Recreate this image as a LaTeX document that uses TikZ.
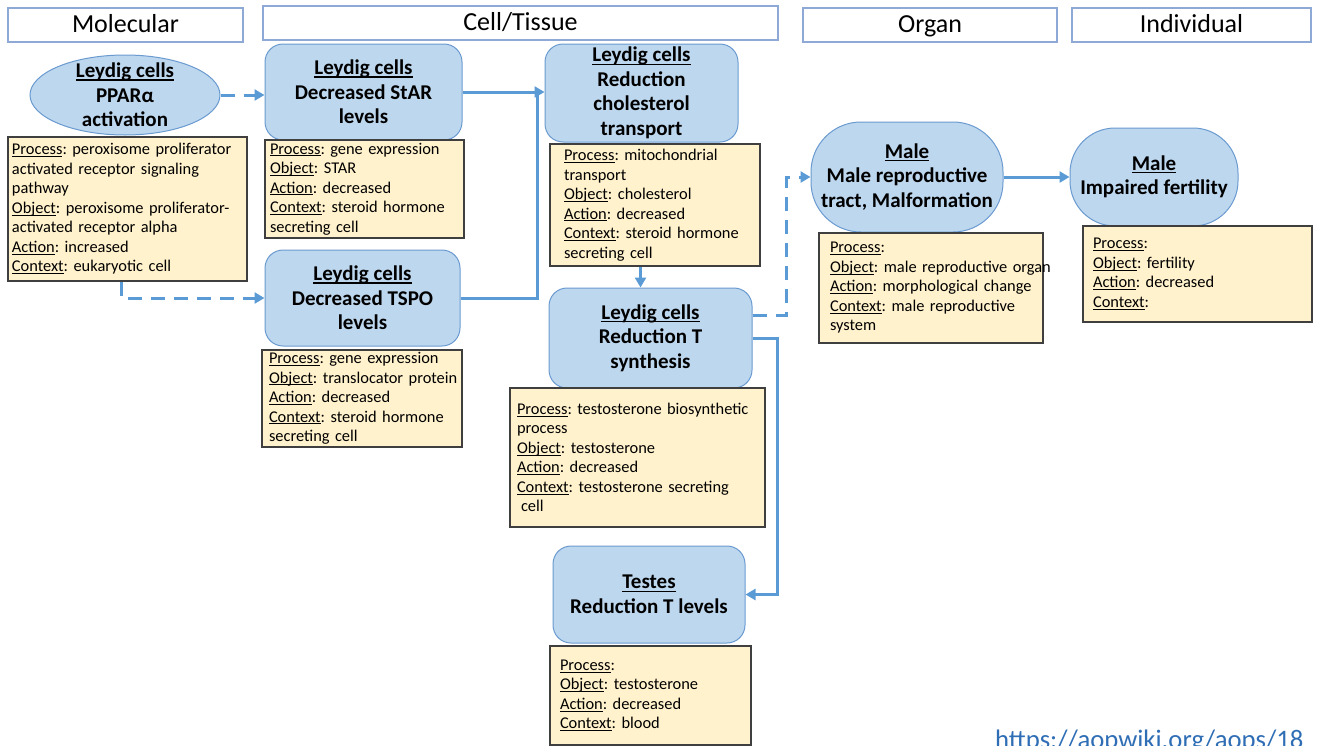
\documentclass[tikz,border=0pt]{standalone}
\usepackage{fontspec}
\setmainfont{Carlito}
\usetikzlibrary{arrows.meta,shapes.geometric}

\definecolor{evfill}{HTML}{BDD7EE}
\definecolor{evline}{HTML}{6A9AD0}
\definecolor{boxfill}{HTML}{FFF2CC}
\definecolor{boxline}{HTML}{3F3F3F}
\definecolor{headline}{HTML}{8EA9D6}
\definecolor{flowblue}{HTML}{5B9BD5}
\definecolor{urlblue}{HTML}{2F6EB5}

\newcommand\uterm[1]{\leavevmode\setbox0\hbox{#1}\rlap{\rule[-0.13em]{\wd0}{0.055em}}\box0}

\begin{document}
\frenchspacing
\hyphenpenalty=10000
\begin{tikzpicture}[x=1pt,y=-1pt,
    head/.style={draw=headline,line width=1.3pt,fill=white,minimum height=34pt,inner sep=0pt,
      text height=18pt,text depth=4pt,font=\fontsize{26}{30}\selectfont},
    event/.style={draw=evline,line width=1pt,fill=evfill,rounded corners=18pt,inner sep=0pt},
    evtext/.style={align=center,inner sep=0pt,font=\fontsize{21}{24.5}\selectfont\bfseries},
    info/.style={draw=boxline,line width=1.2pt,fill=boxfill,align=left,inner ysep=0pt,
      font=\fontsize{16.4}{19.5}\selectfont},
    flow/.style={draw=flowblue,line width=3pt,-{Triangle[length=10pt,width=11pt]}},
    link/.style={draw=flowblue,line width=3pt},
    dashflow/.style={flow,dash pattern=on 14pt off 9pt}]

      \useasboundingbox (0,0) rectangle (1319,745);

      \begin{scope}[every node/.style={head}]
        \node[minimum width=235pt] (h1) at (125.5,25)  {Molecular};
        \node[minimum width=515pt] (h2) at (520.5,23)  {Cell/Tissue};
        \node[minimum width=254pt] (h3) at (930,25)    {Organ};
        \node[minimum width=239pt] (h4) at (1191.5,25) {Individual};
      \end{scope}

      \begin{scope}[every node/.append style={evtext}]
        \node[event,ellipse,minimum width=190pt,minimum height=80pt] (e1) at (125,95) {};
        \node (e1t) at (e1) {\uterm{Leydig cells}\\PPARα\\activation};
        \node[event,minimum width=197pt,minimum height=96pt] (e2) at (363.5,92)
          {\uterm{Leydig cells}\\Decreased StAR\\levels};
        \node[event,minimum width=195pt,minimum height=96pt] (e3) at (362.5,298)
          {\uterm{Leydig cells}\\Decreased TSPO\\levels};
        \node[event,minimum width=193pt,minimum height=98pt] (e4) at (641.5,93)
          {\uterm{Leydig cells}\\Reduction\\cholesterol\\transport};
        \node[event,minimum width=203pt,minimum height=100pt] (e5) at (650.5,338)
          {\uterm{Leydig cells}\\Reduction T\\synthesis};
        \node[event,minimum width=192pt,minimum height=97pt] (e6) at (649,594.5)
          {\uterm{Testes}\\Reduction T levels};
        \node[event,minimum width=192pt,minimum height=110pt,rounded corners=50pt] (e7) at (907,177)
          {\uterm{Male}\\Male reproductive\\tract, Malformation};
        \node[event,minimum width=168pt,minimum height=98pt,rounded corners=45pt] (e8) at (1154,177)
          {\uterm{Male}\\Impaired fertility};
      \end{scope}

      \begin{scope}[every node/.append style={info}]
        \node[minimum width=239pt,minimum height=144pt,inner xsep=4pt,text width=231pt] (b1) at (127.5,209)
          {\uterm{Process}: peroxisome proliferator\\activated receptor signaling\\pathway\\
           \uterm{Object}: peroxisome proliferator-\\activated receptor alpha\\
           \uterm{Action}: increased\\\uterm{Context}: eukaryotic cell};
        \node[minimum width=199pt,minimum height=98pt,inner xsep=5pt,text width=189pt] (b2) at (364.5,189)
          {\uterm{Process}: gene expression\\\uterm{Object}: STAR\\\uterm{Action}: decreased\\
           \uterm{Context}: steroid hormone\\secreting cell};
        \node[minimum width=200pt,minimum height=97pt,inner xsep=7pt,text width=186pt] (b3) at (362,398.5)
          {\uterm{Process}: gene expression\\\mbox{\uterm{Object}: translocator protein}\\\uterm{Action}: decreased\\
           \uterm{Context}: steroid hormone\\secreting cell};
        \node[minimum width=210pt,minimum height=122pt,inner xsep=14pt,text width=182pt] (b4) at (655,205)
          {\uterm{Process}: mitochondrial\\transport\\\uterm{Object}: cholesterol\\\uterm{Action}: decreased\\
           \uterm{Context}: steroid hormone\\secreting cell};
        \node[minimum width=255pt,minimum height=139pt,inner xsep=7pt,text width=241pt] (b5) at (637.5,457.5)
          {\uterm{Process}: testosterone biosynthetic\\process\\\uterm{Object}: testosterone\\
           \uterm{Action}: decreased\\\uterm{Context}: testosterone secreting\\\hspace*{4pt}cell};
        \node[minimum width=201pt,minimum height=99pt,inner xsep=10pt,text width=181pt] (b6) at (650.5,695.5)
          {\uterm{Process}:\\\uterm{Object}: testosterone\\\uterm{Action}: decreased\\\uterm{Context}: blood};
        \node[minimum width=224pt,minimum height=110pt,inner xsep=11pt,text width=202pt] (b7) at (931,288)
          {\uterm{Process}:\\\mbox{\uterm{Object}: male reproductive organ}\\\mbox{\uterm{Action}: morphological change}\\
           \uterm{Context}: male reproductive\\system};
        \node[minimum width=229pt,minimum height=96pt,inner xsep=10pt,text width=209pt] (b8) at (1197.5,274)
          {\uterm{Process}:\\\uterm{Object}: fertility\\\uterm{Action}: decreased\\\uterm{Context}:};
      \end{scope}

      \node[anchor=base west,inner sep=0pt,text=urlblue,font=\fontsize{26.7}{30}\selectfont] (url)
        at (995,748) {https://aopwiki.org/aops/18};

      \coordinate (m) at ([xshift=-7pt]e2.east -| e4.west);

      \begin{scope}[every edge/.style={flow}]
        \path (e1.east) edge[dash pattern=on 14pt off 9pt] (e1.east -| e2.west);
        \path (e2.east) edge (e2.east -| e4.west);
        \path ([xshift=-10pt]e5.north |- b4.south) edge ([xshift=-10pt]e5.north);
        \path (e7) edge (e8);
      \end{scope}

      \draw[dashflow] ([xshift=-6pt]b1.south) |- (e3.west);
      \draw[link] (e3.east) -| (m);
      \draw[flow] (e5.east) -- ++(25,0) |- (e6.east);
      \draw[dashflow] ([yshift=23pt]e5.east) -- ++(34,0) |- (e7.west);

    \end{tikzpicture}
\end{document}
